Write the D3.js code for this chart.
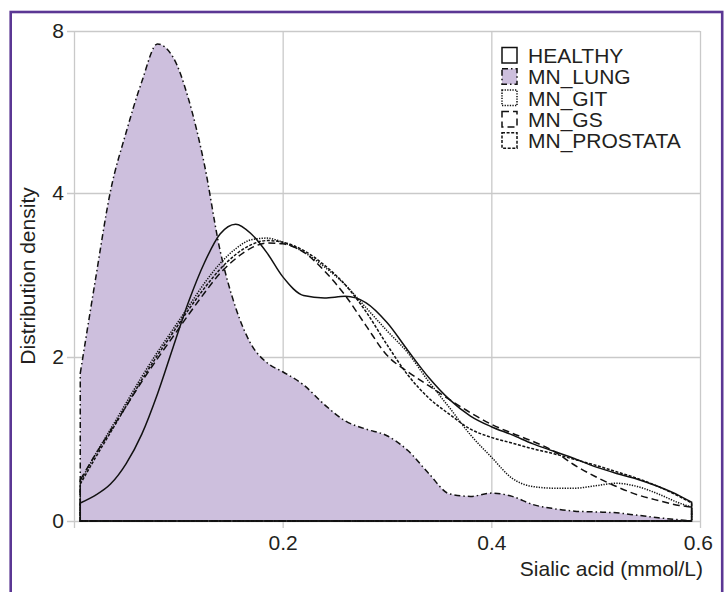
<!DOCTYPE html>
<html>
<head>
  <meta charset="utf-8">
  <script src="https://d3js.org/d3.v7.min.js"></script>
  <style>
    body { margin: 0; background: #fff; }
    svg text { font-family: "Liberation Sans", Arial, sans-serif; fill: #231f20; }
  </style>
</head>
<body>
  <div id="chart"></div>
  <script>
    // sialic acid grid (mmol/L) shared by all density curves
    const sialic = [0.006, 0.02, 0.035, 0.05, 0.065, 0.08, 0.095, 0.11, 0.125, 0.14, 0.155, 0.17, 0.185,
      0.2, 0.22, 0.24, 0.26, 0.28, 0.3, 0.32, 0.34, 0.36, 0.38, 0.4, 0.42, 0.44, 0.46, 0.48, 0.5,
      0.52, 0.54, 0.56, 0.58, 0.592];

    const healthy = [0.22, 0.31, 0.45, 0.7, 1.06, 1.55, 2.12, 2.68, 3.15, 3.5, 3.62, 3.5, 3.27,
      2.98, 2.75, 2.72, 2.74, 2.66, 2.42, 2.08, 1.75, 1.48, 1.28, 1.15, 1.05, 0.94, 0.85, 0.76, 0.66,
      0.58, 0.51, 0.42, 0.31, 0.23];
    const mnLung = [1.8, 2.9, 4.05, 5.5, 6.75, 7.68, 7.35, 6.3, 4.7, 3.3, 2.6, 2.15, 1.93,
      1.82, 1.66, 1.42, 1.22, 1.12, 1.04, 0.86, 0.58, 0.33, 0.3, 0.34, 0.3, 0.2, 0.15, 0.12, 0.11,
      0.1, 0.07, 0.04, 0.015, 0];
    const mnGit = [0.48, 0.8, 1.12, 1.44, 1.76, 2.06, 2.34, 2.62, 2.9, 3.14, 3.32, 3.43, 3.45,
      3.4, 3.28, 3.1, 2.88, 2.6, 2.32, 2.05, 1.7, 1.38, 1.05, 0.78, 0.52, 0.42, 0.4, 0.4, 0.43,
      0.46, 0.42, 0.33, 0.22, 0.17];
    const mnGs = [0.5, 0.8, 1.1, 1.4, 1.7, 1.98, 2.25, 2.52, 2.78, 3.02, 3.2, 3.33, 3.39,
      3.38, 3.28, 3.05, 2.75, 2.38, 2.02, 1.82, 1.65, 1.48, 1.32, 1.18, 1.07, 0.97, 0.85, 0.68, 0.54,
      0.42, 0.32, 0.25, 0.19, 0.17];
    const mnProstata = [0.45, 0.76, 1.08, 1.4, 1.72, 2.02, 2.3, 2.58, 2.84, 3.07, 3.25, 3.37, 3.42,
      3.4, 3.3, 3.12, 2.88, 2.55, 2.15, 1.78, 1.5, 1.3, 1.12, 1.02, 0.95, 0.88, 0.82, 0.75, 0.68,
      0.6, 0.52, 0.42, 0.3, 0.22];

    const groups = ["HEALTHY", "MN_LUNG", "MN_GIT", "MN_GS", "MN_PROSTATA"];
    const xTicks = [0, 0.2, 0.4, 0.6];
    const xTickLabels = ["", "0.2", "0.4", "0.6"];
    const yTicks = [0, 2, 4, 8];
    const yTickLabels = ["0", "2", "4", "8"];

    const W = 725, H = 592;
    const svg = d3.select("#chart").append("svg")
      .attr("width", W).attr("height", H);

    svg.append("rect").attr("width", W).attr("height", H).attr("fill", "#fff");

    // purple frame
    svg.append("rect")
      .attr("x", 10.7).attr("y", 12)
      .attr("width", 711.5).attr("height", 600)
      .attr("fill", "none")
      .attr("stroke", "#5b3794")
      .attr("stroke-width", 2.6);

    const x = d3.scaleLinear().domain([0, 0.6]).range([74, 700]);
    // the y axis is spaced evenly at 0, 2, 4, 8
    const y = d3.scaleLinear().domain(yTicks).range([521, 357, 193, 31]);

    // grid + axes
    const yAxis = svg.append("g")
      .attr("transform", "translate(67,0)")
      .call(d3.axisLeft(y).tickValues(yTicks).tickSize(-633).tickPadding(3)
        .tickFormat((d, i) => yTickLabels[i]));
    const xAxis = svg.append("g")
      .attr("transform", "translate(0,528)")
      .call(d3.axisBottom(x).tickValues(xTicks).tickSize(-497).tickPadding(7)
        .tickFormat((d, i) => xTickLabels[i]));
    [yAxis, xAxis].forEach(g => {
      g.select(".domain").remove();
      g.selectAll(".tick line").attr("stroke", "#c9c9c9").attr("stroke-width", 1.3);
      g.selectAll(".tick text").attr("font-size", 21).attr("fill", "#231f20");
    });
    xAxis.selectAll(".tick:last-child text").attr("dx", "-0.1em");

    const series = [
      { name: "MN_LUNG", values: mnLung, fill: "#cdbfdd", dash: "6,3,1.5,3" },
      { name: "MN_GS", values: mnGs, fill: "none", dash: "7,4" },
      { name: "MN_PROSTATA", values: mnProstata, fill: "none", dash: "3,1.6" },
      { name: "MN_GIT", values: mnGit, fill: "none", dash: "1.3,1.3" },
      { name: "HEALTHY", values: healthy, fill: "none", dash: null }
    ];

    const area = d3.area()
      .x((d, i) => x(sialic[i]))
      .y0(y(0))
      .y1(d => y(d))
      .curve(d3.curveMonotoneX);

    svg.append("g").selectAll("path")
      .data(series)
      .join("path")
      .attr("d", d => area(d.values))
      .attr("fill", d => d.fill)
      .attr("stroke", "#111")
      .attr("stroke-width", 1.5)
      .attr("stroke-dasharray", d => d.dash);

    // legend
    const byName = name => series.find(s => s.name === name);
    const legend = svg.append("g").selectAll("g")
      .data(groups)
      .join("g")
      .attr("transform", (d, i) => `translate(502,${63 + i * 21.3})`);
    legend.append("rect")
      .attr("x", 0).attr("y", -15.5)
      .attr("width", 15).attr("height", 15.5)
      .attr("fill", d => byName(d).fill === "none" ? "#fff" : byName(d).fill)
      .attr("stroke", "#111")
      .attr("stroke-width", 1.5)
      .attr("stroke-dasharray", d => byName(d).dash);
    legend.append("text")
      .attr("x", 26).attr("y", 0)
      .attr("font-size", 21)
      .text(d => d);

    // axis titles
    svg.append("text")
      .attr("transform", "translate(35,276) rotate(-90)")
      .attr("text-anchor", "middle")
      .attr("font-size", 21)
      .text("Distribution density");
    svg.append("text")
      .attr("x", 703).attr("y", 576)
      .attr("text-anchor", "end")
      .attr("font-size", 21)
      .text("Sialic acid (mmol/L)");
  </script>
</body>
</html>
